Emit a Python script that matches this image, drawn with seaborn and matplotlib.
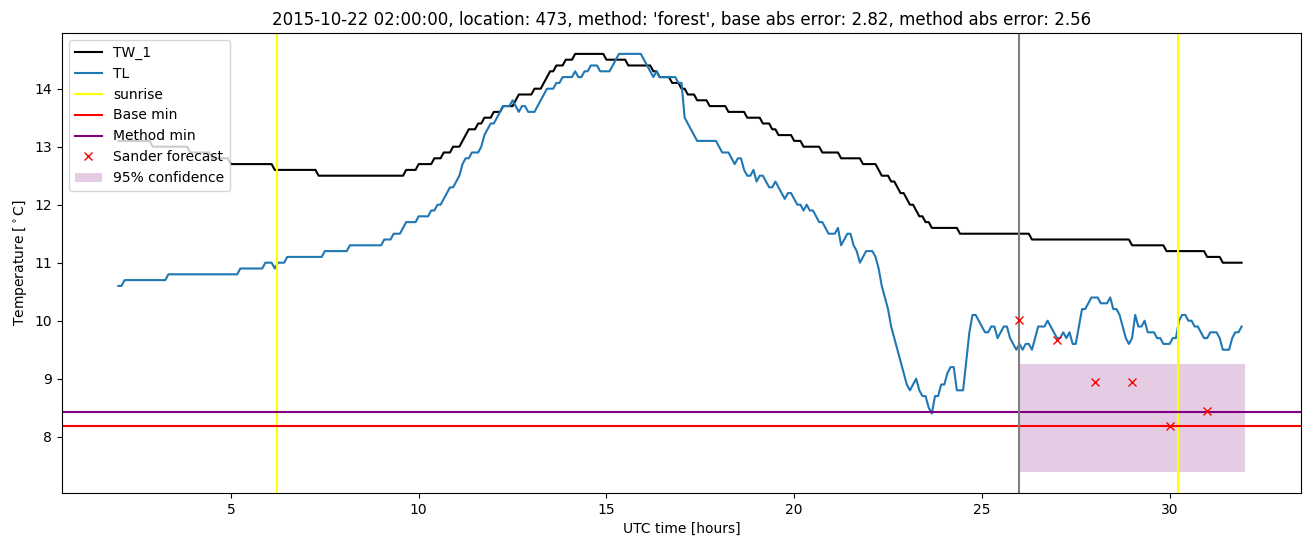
import numpy as np
import pandas as pd
import matplotlib
matplotlib.use("Agg")
import matplotlib.pyplot as plt
import seaborn as sns

# ---------------- data ----------------
start_hour = 2.0
samples_per_hour = 12  # 5-minute samples

# TW_1 temperature, one row per hour (12 samples each), hours 2..31
tw1_rows = [
    [13.1, 13.1, 13.1, 13.1, 13.1, 13.1, 13.1, 13.1, 13.1, 13.1, 13.1, 13.0],  # 2
    [13.0, 13.0, 13.0, 13.0, 13.0, 13.0, 13.0, 13.0, 13.0, 13.0, 13.0, 12.9],  # 3
    [12.9, 12.9, 12.9, 12.9, 12.9, 12.9, 12.8, 12.8, 12.8, 12.8, 12.8, 12.8],  # 4
    [12.7, 12.7, 12.7, 12.7, 12.7, 12.7, 12.7, 12.7, 12.7, 12.7, 12.7, 12.7],  # 5
    [12.7, 12.7, 12.6, 12.6, 12.6, 12.6, 12.6, 12.6, 12.6, 12.6, 12.6, 12.6],  # 6
    [12.6, 12.6, 12.6, 12.6, 12.5, 12.5, 12.5, 12.5, 12.5, 12.5, 12.5, 12.5],  # 7
    [12.5, 12.5, 12.5, 12.5, 12.5, 12.5, 12.5, 12.5, 12.5, 12.5, 12.5, 12.5],  # 8
    [12.5, 12.5, 12.5, 12.5, 12.5, 12.5, 12.5, 12.5, 12.6, 12.6, 12.6, 12.6],  # 9
    [12.7, 12.7, 12.7, 12.7, 12.7, 12.8, 12.8, 12.8, 12.9, 12.9, 12.9, 13.0],  # 10
    [13.0, 13.0, 13.1, 13.2, 13.3, 13.3, 13.3, 13.4, 13.4, 13.5, 13.5, 13.5],  # 11
    [13.6, 13.6, 13.6, 13.7, 13.7, 13.7, 13.7, 13.8, 13.9, 13.9, 13.9, 13.9],  # 12
    [13.9, 14.0, 14.0, 14.0, 14.1, 14.2, 14.3, 14.3, 14.4, 14.4, 14.4, 14.5],  # 13
    [14.5, 14.5, 14.6, 14.6, 14.6, 14.6, 14.6, 14.6, 14.6, 14.6, 14.6, 14.6],  # 14
    [14.5, 14.5, 14.5, 14.5, 14.5, 14.5, 14.5, 14.4, 14.4, 14.4, 14.4, 14.4],  # 15
    [14.4, 14.4, 14.4, 14.3, 14.3, 14.2, 14.2, 14.2, 14.2, 14.1, 14.1, 14.1],  # 16
    [14.0, 14.0, 13.9, 13.9, 13.9, 13.8, 13.8, 13.8, 13.8, 13.7, 13.7, 13.7],  # 17
    [13.7, 13.7, 13.7, 13.6, 13.6, 13.6, 13.6, 13.6, 13.6, 13.5, 13.5, 13.5],  # 18
    [13.5, 13.5, 13.4, 13.4, 13.4, 13.3, 13.3, 13.2, 13.2, 13.2, 13.2, 13.2],  # 19
    [13.1, 13.1, 13.1, 13.0, 13.0, 13.0, 13.0, 13.0, 13.0, 12.9, 12.9, 12.9],  # 20
    [12.9, 12.9, 12.9, 12.8, 12.8, 12.8, 12.8, 12.8, 12.8, 12.8, 12.7, 12.7],  # 21
    [12.7, 12.7, 12.7, 12.6, 12.5, 12.5, 12.5, 12.4, 12.4, 12.3, 12.2, 12.2],  # 22
    [12.1, 12.0, 12.0, 11.9, 11.8, 11.8, 11.7, 11.7, 11.6, 11.6, 11.6, 11.6],  # 23
    [11.6, 11.6, 11.6, 11.6, 11.6, 11.5, 11.5, 11.5, 11.5, 11.5, 11.5, 11.5],  # 24
    [11.5, 11.5, 11.5, 11.5, 11.5, 11.5, 11.5, 11.5, 11.5, 11.5, 11.5, 11.5],  # 25
    [11.5, 11.5, 11.5, 11.5, 11.4, 11.4, 11.4, 11.4, 11.4, 11.4, 11.4, 11.4],  # 26
    [11.4, 11.4, 11.4, 11.4, 11.4, 11.4, 11.4, 11.4, 11.4, 11.4, 11.4, 11.4],  # 27
    [11.4, 11.4, 11.4, 11.4, 11.4, 11.4, 11.4, 11.4, 11.4, 11.4, 11.4, 11.4],  # 28
    [11.3, 11.3, 11.3, 11.3, 11.3, 11.3, 11.3, 11.3, 11.3, 11.3, 11.3, 11.2],  # 29
    [11.2, 11.2, 11.2, 11.2, 11.2, 11.2, 11.2, 11.2, 11.2, 11.2, 11.2, 11.2],  # 30
    [11.1, 11.1, 11.1, 11.1, 11.1, 11.0, 11.0, 11.0, 11.0, 11.0, 11.0, 11.0],  # 31
]

# TL temperature, one row per hour (12 samples each), hours 2..31
tl_rows = [
    [10.6, 10.6, 10.7, 10.7, 10.7, 10.7, 10.7, 10.7, 10.7, 10.7, 10.7, 10.7],  # 2
    [10.7, 10.7, 10.7, 10.7, 10.8, 10.8, 10.8, 10.8, 10.8, 10.8, 10.8, 10.8],  # 3
    [10.8, 10.8, 10.8, 10.8, 10.8, 10.8, 10.8, 10.8, 10.8, 10.8, 10.8, 10.8],  # 4
    [10.8, 10.8, 10.8, 10.9, 10.9, 10.9, 10.9, 10.9, 10.9, 10.9, 10.9, 11.0],  # 5
    [11.0, 11.0, 10.9, 11.0, 11.0, 11.0, 11.1, 11.1, 11.1, 11.1, 11.1, 11.1],  # 6
    [11.1, 11.1, 11.1, 11.1, 11.1, 11.1, 11.2, 11.2, 11.2, 11.2, 11.2, 11.2],  # 7
    [11.2, 11.2, 11.3, 11.3, 11.3, 11.3, 11.3, 11.3, 11.3, 11.3, 11.3, 11.3],  # 8
    [11.3, 11.4, 11.4, 11.4, 11.5, 11.5, 11.5, 11.6, 11.7, 11.7, 11.7, 11.7],  # 9
    [11.8, 11.8, 11.8, 11.8, 11.9, 11.9, 12.0, 12.0, 12.1, 12.2, 12.3, 12.3],  # 10
    [12.4, 12.5, 12.7, 12.8, 12.8, 12.9, 12.9, 12.9, 13.0, 13.2, 13.3, 13.4],  # 11
    [13.4, 13.5, 13.6, 13.7, 13.7, 13.7, 13.8, 13.7, 13.6, 13.7, 13.7, 13.6],  # 12
    [13.6, 13.6, 13.7, 13.8, 13.9, 14.0, 14.0, 14.0, 14.1, 14.1, 14.2, 14.2],  # 13
    [14.2, 14.2, 14.3, 14.2, 14.2, 14.3, 14.3, 14.4, 14.4, 14.4, 14.3, 14.3],  # 14
    [14.3, 14.3, 14.4, 14.5, 14.6, 14.6, 14.6, 14.6, 14.6, 14.6, 14.6, 14.6],  # 15
    [14.5, 14.4, 14.3, 14.2, 14.3, 14.2, 14.2, 14.2, 14.2, 14.2, 14.2, 14.1],  # 16
    [14.1, 13.5, 13.4, 13.3, 13.2, 13.1, 13.1, 13.1, 13.1, 13.1, 13.1, 13.1],  # 17
    [13.0, 12.9, 12.9, 12.9, 12.8, 12.7, 12.8, 12.8, 12.6, 12.5, 12.5, 12.6],  # 18
    [12.4, 12.5, 12.5, 12.4, 12.3, 12.3, 12.4, 12.3, 12.2, 12.1, 12.2, 12.2],  # 19
    [12.1, 12.0, 12.0, 11.9, 12.0, 11.9, 11.9, 11.8, 11.7, 11.7, 11.6, 11.5],  # 20
    [11.5, 11.5, 11.6, 11.3, 11.4, 11.5, 11.5, 11.3, 11.2, 11.0, 11.1, 11.2],  # 21
    [11.2, 11.2, 11.1, 10.9, 10.6, 10.4, 10.2, 9.9, 9.7, 9.5, 9.3, 9.1],       # 22
    [8.9, 8.8, 8.9, 9.0, 8.8, 8.7, 8.7, 8.5, 8.4, 8.7, 8.7, 8.9],              # 23
    [8.9, 9.1, 9.2, 9.2, 8.8, 8.8, 8.8, 9.3, 9.8, 10.1, 10.1, 10.0],           # 24
    [9.9, 9.8, 9.8, 9.9, 9.9, 9.7, 9.8, 9.9, 9.9, 9.7, 9.6, 9.5],              # 25
    [9.6, 9.5, 9.6, 9.6, 9.5, 9.7, 9.9, 9.9, 9.9, 10.0, 9.9, 9.8],             # 26
    [9.7, 9.7, 9.8, 9.7, 9.8, 9.6, 9.6, 9.9, 10.2, 10.2, 10.3, 10.4],          # 27
    [10.4, 10.4, 10.3, 10.3, 10.3, 10.4, 10.2, 10.2, 10.1, 9.9, 9.7, 9.6],     # 28
    [9.7, 10.1, 9.9, 9.9, 10.0, 9.8, 9.8, 9.8, 9.7, 9.7, 9.6, 9.6],            # 29
    [9.6, 9.7, 9.7, 10.0, 10.1, 10.1, 10.0, 10.0, 9.9, 9.9, 9.8, 9.7],         # 30
    [9.7, 9.8, 9.8, 9.8, 9.7, 9.5, 9.5, 9.5, 9.7, 9.8, 9.8, 9.9],              # 31
]

sunrise_hours = [6.22, 30.21]
forecast_issue_hour = 26.0
base_min = 8.18
method_min = 8.43

forecast_hours = [26, 27, 28, 29, 30, 31]
forecast_temp = [10.02, 9.67, 8.95, 8.95, 8.18, 8.45]

conf_hours = [26.0, 32.0]
conf_lower = [7.39, 7.39]
conf_upper = [9.26, 9.26]

title = ("2015-10-22 02:00:00, location: 473, method: 'forest', "
         "base abs error: 2.82, method abs error: 2.56")

# ---------------- plot ----------------
tw1_temp = [v for row in tw1_rows for v in row]
tl_temp = [v for row in tl_rows for v in row]
tw1_hours = start_hour + np.arange(len(tw1_temp)) / samples_per_hour
tl_hours = start_hour + np.arange(len(tl_temp)) / samples_per_hour

fig = plt.figure(figsize=(13.11, 5.47), dpi=100)
ax = fig.add_axes([0.0473, 0.0987, 0.9451, 0.8410])

sns.lineplot(x=tw1_hours, y=tw1_temp, color="black", label="TW_1", ax=ax)
sns.lineplot(x=tl_hours, y=tl_temp, color="#1f77b4", label="TL", ax=ax)

for i, s in enumerate(sunrise_hours):
    ax.axvline(s, color="yellow", label="sunrise" if i == 0 else None)
ax.axhline(base_min, color="red", label="Base min")
ax.axhline(method_min, color="purple", label="Method min")
ax.axvline(forecast_issue_hour, color="grey")
ax.plot(forecast_hours, forecast_temp, "x", color="red", label="Sander forecast")
ax.fill_between(conf_hours, conf_lower, conf_upper, color="purple", alpha=0.2,
                linewidth=0, label="95% confidence")

ax.set_title(title)
ax.set_xlabel("UTC time [hours]")
ax.set_ylabel(r"Temperature [$^\circ$C]")
ax.legend(loc="upper left")

fig.savefig("out.png", dpi=100)
